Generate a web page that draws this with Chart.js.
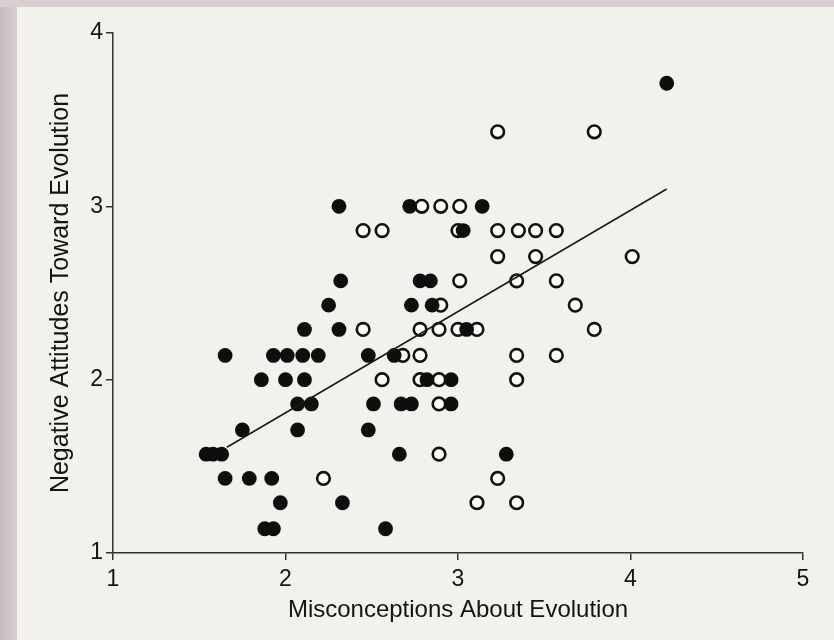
<!DOCTYPE html>
<html><head><meta charset="utf-8">
<script src="https://cdn.jsdelivr.net/npm/chart.js@4/dist/chart.umd.min.js"></script>
<style>
html,body{margin:0;padding:0;background:#f2f1ec;}
#wrap{position:relative;width:834px;height:640px;overflow:hidden;background:#f2f1ec;}
#lstrip{position:absolute;left:0;top:0;width:17px;height:640px;background:linear-gradient(to right,#c7bcc2,#d8cfd2);}
#tstrip{position:absolute;left:0;top:0;width:834px;height:7px;background:#d9ced2;}
canvas{position:absolute;left:0;top:0;}
</style></head><body>
<div id="wrap"><div id="lstrip"></div><div id="tstrip"></div><canvas id="c" width="834" height="640"></canvas></div>
<script>
const xTickValues = [1, 2, 3, 4, 5];
const yTickValues = [1, 2, 3, 4];
const xTitle = 'Misconceptions About Evolution';
const yTitle = 'Negative Attitudes Toward Evolution';

// filled (black) points
const filledX = [4.21, 2.31, 2.72, 3.14, 3.03, 2.32, 2.78, 2.84, 2.25, 2.73, 2.85, 2.11, 2.31, 3.05,
  1.65, 1.93, 2.01, 2.10, 2.19, 2.48, 2.63, 1.86, 2.00, 2.11, 2.82, 2.96,
  2.07, 2.15, 2.51, 2.67, 2.73, 2.96, 1.75, 2.07, 2.48, 1.54, 1.58, 1.63, 2.66, 3.28,
  1.65, 1.79, 1.92, 1.97, 2.33, 1.88, 1.93, 2.58];
const filledY = [3.71, 3.00, 3.00, 3.00, 2.86, 2.57, 2.57, 2.57, 2.43, 2.43, 2.43, 2.29, 2.29, 2.29,
  2.14, 2.14, 2.14, 2.14, 2.14, 2.14, 2.14, 2.00, 2.00, 2.00, 2.00, 2.00,
  1.86, 1.86, 1.86, 1.86, 1.86, 1.86, 1.71, 1.71, 1.71, 1.57, 1.57, 1.57, 1.57, 1.57,
  1.43, 1.43, 1.43, 1.29, 1.29, 1.14, 1.14, 1.14];

// open (white) points
const openX = [3.23, 3.79, 2.79, 2.90, 3.01, 2.45, 2.56, 3.00, 3.23, 3.35, 3.45, 3.57,
  3.23, 3.45, 4.01, 3.01, 3.34, 3.57, 2.90, 3.68, 2.45, 2.78, 2.89, 3.00, 3.11, 3.79,
  2.68, 2.78, 3.34, 3.57, 2.56, 2.78, 2.89, 3.34, 2.89, 2.89, 2.22, 3.23, 3.11, 3.34];
const openY = [3.43, 3.43, 3.00, 3.00, 3.00, 2.86, 2.86, 2.86, 2.86, 2.86, 2.86, 2.86,
  2.71, 2.71, 2.71, 2.57, 2.57, 2.57, 2.43, 2.43, 2.29, 2.29, 2.29, 2.29, 2.29, 2.29,
  2.14, 2.14, 2.14, 2.14, 2.00, 2.00, 2.00, 2.00, 1.86, 1.57, 1.43, 1.43, 1.29, 1.29];

// regression line end points
const fitX = [1.66, 4.21];
const fitY = [1.61, 3.10];

const pts = (xs, ys) => xs.map((x, i) => ({x: x, y: ys[i]}));
const FONT = 'Liberation Sans';
const INK = '#141414';

new Chart(document.getElementById('c').getContext('2d'), {
  type: 'scatter',
  data: {
    datasets: [
      {type: 'line', label: 'fit', data: pts(fitX, fitY), showLine: true, borderColor: '#1a1a1a',
       borderWidth: 1.6, pointRadius: 0, fill: false, order: 0},
      {label: 'filled', data: pts(filledX, filledY), pointRadius: 7.4, pointBackgroundColor: '#0e0e0e',
       pointBorderColor: '#0e0e0e', pointBorderWidth: 0, order: 1},
      {label: 'open', data: pts(openX, openY), pointRadius: 6.3, pointBackgroundColor: '#fbfbf7',
       pointBorderColor: '#111111', pointBorderWidth: 2.6, order: 2}
    ]
  },
  options: {
    responsive: false, animation: false, devicePixelRatio: 1,
    layout: {padding: {top: 33, right: 31, left: 0, bottom: 0}},
    plugins: {legend: {display: false}, tooltip: {enabled: false}},
    scales: {
      x: {
        type: 'linear', min: 1, max: 5,
        afterBuildTicks: s => { s.ticks = xTickValues.map(v => ({value: v})); },
        afterFit: s => { s.height = 87; },
        grid: {drawOnChartArea: false, drawTicks: true, tickLength: 7, color: '#333', lineWidth: 1.5},
        border: {display: true, color: '#333', width: 1.5},
        ticks: {padding: 6, font: {family: FONT, size: 23}, color: INK, maxRotation: 0},
        title: {display: true, text: xTitle, font: {family: FONT, size: 24}, color: INK, padding: {top: 0, bottom: 15}}
      },
      y: {
        type: 'linear', min: 1, max: 4,
        afterBuildTicks: s => { s.ticks = yTickValues.map(v => ({value: v})); },
        afterFit: s => { s.width = 113; },
        grid: {drawOnChartArea: false, drawTicks: true, tickLength: 7, color: '#333', lineWidth: 1.5},
        border: {display: true, color: '#333', width: 1.5},
        ticks: {padding: 3, font: {family: FONT, size: 23}, color: INK},
        title: {display: true, text: yTitle, font: {family: FONT, size: 25}, color: INK, padding: {top: 46, bottom: 0}}
      }
    }
  }
});
</script>
</body></html>
